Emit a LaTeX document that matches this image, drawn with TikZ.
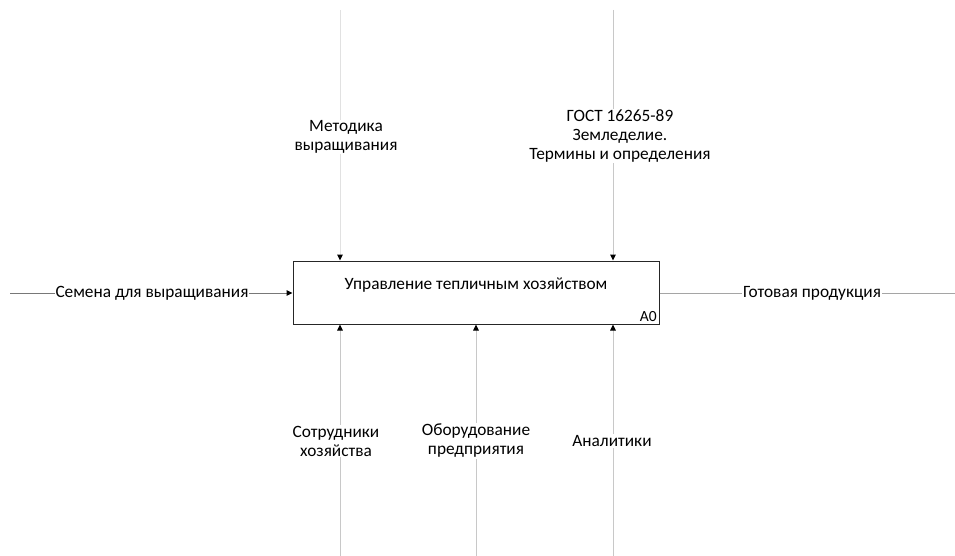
\documentclass[tikz,border=0pt]{standalone}
\usepackage{fontspec}
\setmainfont{Carlito}
\usetikzlibrary{positioning, arrows.meta}
\definecolor{lineA}{RGB}{120,120,120}
\definecolor{lineB}{RGB}{165,165,165}
\definecolor{lineC}{RGB}{200,200,200}
\definecolor{lineD}{RGB}{225,225,225}
\tikzset{
  func/.style={rectangle, draw=black!85, line width=1pt, minimum width=366pt, minimum height=63pt, inner sep=0pt},
  arrowlabel/.style={fill=white, align=center, font=\fontsize{17.3}{19}\selectfont, inner sep=1pt},
  flow/.style={line width=1pt, -{Triangle[black, length=6pt, width=5.5pt]}},
}
\begin{document}
\begin{tikzpicture}[x=1pt, y=-1pt]
\useasboundingbox (0,0) rectangle (955,556);
% function box
\node[func] (a0) at (476,292.5) {};
\node[font=\fontsize{17.3}{19}\selectfont] (a0title) at (476,285) {Управление тепличным хозяйством};
\node[anchor=south east, font=\fontsize{15.5}{17}\selectfont, inner sep=2.5pt] (a0num) at (a0.south east) {A0};
% free ends
\coordinate (ctlA) at (340,10);
\coordinate (ctlB) at (613,10);
\coordinate (mechA) at (340,556);
\coordinate (mechB) at (476,556);
\coordinate (mechC) at (613,556);
\coordinate (inA) at (10,293);
\coordinate (outA) at (955,293);
% arrows
\draw[flow, lineD] (ctlA) -- (ctlA |- a0.north);
\draw[flow, lineC] (ctlB) -- (ctlB |- a0.north);
\draw[flow, lineC] (mechA) -- (mechA |- a0.south);
\draw[flow, lineC] (mechB) -- (mechB |- a0.south);
\draw[flow, lineC] (mechC) -- (mechC |- a0.south);
\draw[flow, lineA] (inA) -- (inA -| a0.west);
\draw[line width=1pt, lineB] (a0.east |- outA) -- (outA);
% labels
\node[arrowlabel] (ctlAlbl) at (346,137) {Методика\\выращивания};
\node[arrowlabel] (ctlBlbl) at (620,136) {ГОСТ 16265-89\\Земледелие.\\Термины и определения};
\node[arrowlabel] (mechAlbl) at (336,441) {Сотрудники\\хозяйства};
\node[arrowlabel] (mechBlbl) at (476,441) {Оборудование\\предприятия};
\node[arrowlabel] (mechClbl) at (612,441) {Аналитики};
\node[arrowlabel] (inAlbl) at (152,293) {Семена для выращивания};
\node[arrowlabel] (outAlbl) at (812,293) {Готовая продукция};
\end{tikzpicture}
\end{document}
